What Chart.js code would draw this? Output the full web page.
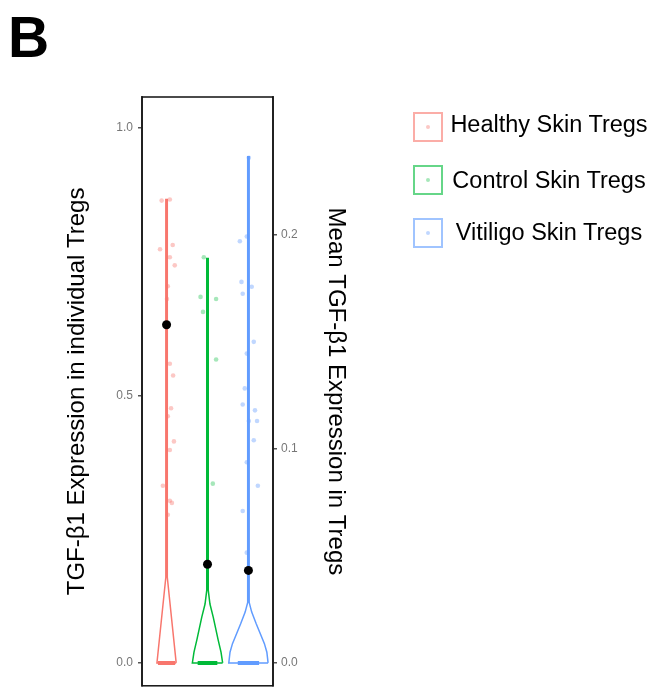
<!DOCTYPE html>
<html>
<head>
<meta charset="utf-8">
<script src="https://cdn.jsdelivr.net/npm/chart.js@4/dist/chart.umd.min.js"></script>
<style>
  body { margin: 0; background: #fff; font-family: "Liberation Sans", Arial, sans-serif; }
  #wrap { position: relative; width: 669px; height: 698px; }
  #chart { position: absolute; left: 0; top: 0; }
  .panel { position: absolute; left: 8px; top: 9px; font-size: 57px; line-height: 57px; font-weight: bold; color: #000; }
  .key { position: absolute; left: 413px; width: 26px; height: 26px; border: 2px solid; }
  .key i { position: absolute; left: 11px; top: 11px; width: 4px; height: 4px; border-radius: 2px; }
  .lab { position: absolute; left: 449px; width: 200px; text-align: center; font-size: 23.5px; line-height: 26px; color: #000; white-space: nowrap; }
</style>
</head>
<body>
<div id="wrap">
  <canvas id="chart" width="669" height="698"></canvas>
  <div class="panel">B</div>
  <div id="legend"></div>
</div>
<script>
// grupos
const grupos = ["Healthy Skin Tregs", "Control Skin Tregs", "Vitiligo Skin Tregs"];
const cores = ["#F8766D", "#00BA38", "#619CFF"];
const coresClaras = ["rgba(248,118,109,0.4)", "rgba(0,186,56,0.35)", "rgba(97,156,255,0.4)"];

// medias (eixo da direita)
const medias = [0.158, 0.0461, 0.0432];

// perfil do violino: nivel (y) e meia largura
const healthyDensY = [0, 0.16, 0.866];
const healthyDensW = [0.235, 0.018, 0.018];
const controlDensY = [0, 0.02, 0.043, 0.0855, 0.11, 0.136, 0.756];
const controlDensW = [0.37, 0.33, 0.26, 0.14, 0.06, 0.018, 0.018];
const vitiligoDensY = [0, 0.02, 0.036, 0.073, 0.095, 0.113, 0.946];
const vitiligoDensW = [0.48, 0.45, 0.39, 0.19, 0.08, 0.018, 0.018];

// faixa de celulas com valor zero
const zeroW = [0.21, 0.24, 0.26];

// pontos individuais
const healthyX = [0.88, 1.08, 0.84, 1.15, 1.08, 1.20, 1.03, 1.01, 1.08, 1.16, 1.11, 1.03, 1.18, 1.08, 0.91, 1.08, 1.13, 1.03];
const healthyY = [0.864, 0.866, 0.773, 0.781, 0.758, 0.743, 0.704, 0.680, 0.559, 0.537, 0.476, 0.461, 0.414, 0.398, 0.331, 0.303, 0.299, 0.277];
const controlX = [1.91, 1.83, 2.21, 1.89, 2.21, 2.13];
const controlY = [0.758, 0.684, 0.680, 0.656, 0.567, 0.335];
const vitiligoX = [3.01, 2.79, 2.96, 2.83, 3.08, 2.86, 3.13, 2.96, 2.91, 2.86, 3.16, 3.01, 3.21, 3.13, 2.96, 3.23, 2.86, 2.96];
const vitiligoY = [0.944, 0.788, 0.797, 0.712, 0.703, 0.690, 0.600, 0.578, 0.513, 0.483, 0.472, 0.452, 0.452, 0.416, 0.375, 0.331, 0.284, 0.206];

// ticks
const ticksEsq = [0, 0.5, 1.0];
const ticksDir = [0, 0.1, 0.2];

const perfisY = [healthyDensY, controlDensY, vitiligoDensY];
const perfisW = [healthyDensW, controlDensW, vitiligoDensW];
const pontosX = [healthyX, controlX, vitiligoX];
const pontosY = [healthyY, controlY, vitiligoY];

function contornoViolino(g) {
  const c = g + 1;
  const ys = perfisY[g], ws = perfisW[g];
  const pts = [];
  for (let k = 0; k < ys.length; k++) pts.push({ x: c + ws[k], y: ys[k] });
  for (let k = ys.length - 1; k >= 0; k--) pts.push({ x: c - ws[k], y: ys[k] });
  pts.push({ x: c + ws[0], y: ys[0] });
  return pts;
}

const datasets = [];
for (let g = 0; g < 3; g++) {
  datasets.push({
    label: grupos[g] + " violin",
    data: contornoViolino(g),
    showLine: true,
    borderColor: cores[g],
    borderWidth: 1.5,
    pointRadius: 0,
    fill: false,
    tension: 0,
    yAxisID: "y",
    order: 3
  });
  datasets.push({
    label: grupos[g] + " zero",
    data: [{ x: g + 1 - zeroW[g], y: 0 }, { x: g + 1 + zeroW[g], y: 0 }],
    showLine: true,
    borderColor: cores[g],
    borderWidth: 4,
    pointRadius: 0,
    yAxisID: "y",
    order: 2
  });
  datasets.push({
    label: grupos[g],
    data: pontosX[g].map((x, k) => ({ x: x, y: pontosY[g][k] })),
    pointRadius: 2.3,
    pointBorderWidth: 0,
    backgroundColor: coresClaras[g],
    yAxisID: "y",
    order: 1
  });
}
datasets.push({
  label: "Mean",
  data: medias.map((m, g) => ({ x: g + 1, y: m })),
  pointRadius: 4.5,
  pointBorderWidth: 0,
  backgroundColor: "#000",
  yAxisID: "y2",
  order: 0
});

// moldura do painel
const moldura = {
  id: "moldura",
  afterDraw(chart) {
    const a = chart.chartArea, ctx = chart.ctx;
    ctx.save();
    ctx.strokeStyle = "#111";
    ctx.lineWidth = 1.5;
    ctx.strokeRect(a.left, a.top, a.right - a.left, a.bottom - a.top);
    ctx.restore();
  }
};

const fonteTitulo = { family: "'Liberation Sans', Arial, sans-serif", size: 24, lineHeight: 1.2 };
const fonteTick = { family: "'Liberation Sans', Arial, sans-serif", size: 12 };

const config = {
  type: "scatter",
  data: { datasets },
  plugins: [moldura],
  options: {
    responsive: false,
    animation: false,
    events: [],
    layout: { padding: { top: 97, bottom: 9, left: 0, right: 316 } },
    plugins: { legend: { display: false }, tooltip: { enabled: false } },
    scales: {
      x: { type: "linear", min: 0.4, max: 3.6, display: false },
      y: {
        position: "left",
        min: -0.0428,
        max: 1.0576,
        afterFit: (s) => { s.width = 142; },
        afterBuildTicks: (s) => { s.ticks = ticksEsq.map(v => ({ value: v })); },
        ticks: { color: "#777", font: fonteTick, padding: 5, callback: (v) => v.toFixed(1) },
        grid: { drawOnChartArea: false, tickLength: 4, color: "#555", lineWidth: 1.5 },
        border: { display: true, color: "#555", width: 2 },
        title: {
          display: true,
          text: "TGF-β1 Expression in individual Tregs",
          color: "#000",
          font: fonteTitulo,
          padding: { top: 63, bottom: 0 }
        }
      },
      y2: {
        position: "right",
        min: -0.0107,
        max: 0.2644,
        afterFit: (s) => { s.width = 80; },
        afterBuildTicks: (s) => { s.ticks = ticksDir.map(v => ({ value: v })); },
        ticks: { color: "#777", font: fonteTick, padding: 4, callback: (v) => v.toFixed(1) },
        grid: { drawOnChartArea: false, tickLength: 4, color: "#555", lineWidth: 1.5 },
        border: { display: true, color: "#555", width: 2 },
        title: {
          display: true,
          text: "Mean TGF-β1 Expression in Tregs",
          color: "#000",
          font: fonteTitulo,
          padding: { top: 3, bottom: 0 }
        }
      }
    }
  }
};

const ctx = document.getElementById("chart");
const myChart = new Chart(ctx, config);

// legenda
const legenda = document.getElementById("legend");
const topos = [112, 165, 218];
const ajusteTexto = [-1, 2, 1];
const bordas = ["rgba(248,118,109,0.6)", "rgba(0,186,56,0.6)", "rgba(97,156,255,0.6)"];
grupos.forEach((nome, g) => {
  const k = document.createElement("div");
  k.className = "key";
  k.style.top = topos[g] + "px";
  k.style.borderColor = bordas[g];
  const dot = document.createElement("i");
  dot.style.background = coresClaras[g];
  k.appendChild(dot);
  legenda.appendChild(k);
  const t = document.createElement("div");
  t.className = "lab";
  t.style.top = (topos[g] + ajusteTexto[g]) + "px";
  t.textContent = nome;
  legenda.appendChild(t);
});
</script>
</body>
</html>
